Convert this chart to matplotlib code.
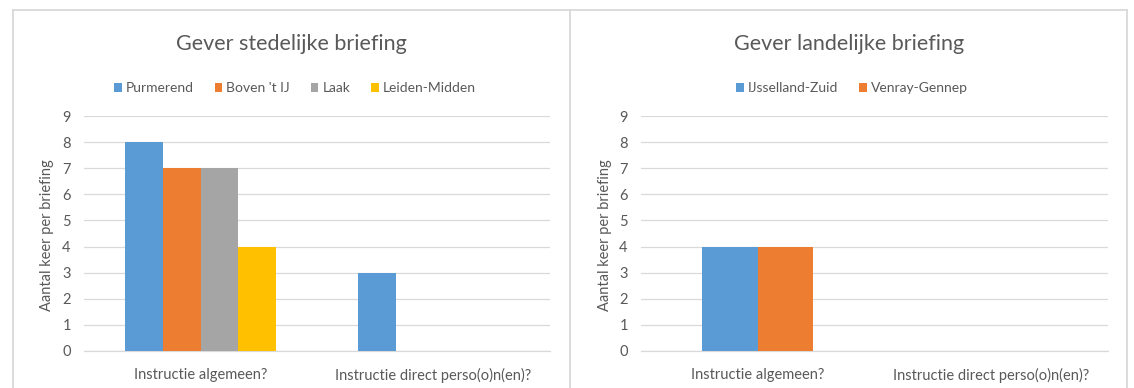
import matplotlib
matplotlib.use("Agg")
import matplotlib.pyplot as plt
from matplotlib.lines import Line2D
from matplotlib.patches import Patch
import numpy as np

plt.rcParams['font.family'] = ['Lato', 'DejaVu Sans']

# Data
categories = ["Instructie algemeen?", "Instructie direct perso(o)n(en)?"]

city_title = "Gever stedelijke briefing"
city_labels = ["Purmerend", "Boven 't IJ", "Laak", "Leiden-Midden"]
city_values = [
    [8, 3],
    [7, 0],
    [7, 0],
    [4, 0],
]

rural_title = "Gever landelijke briefing"
rural_labels = ["IJsselland-Zuid", "Venray-Gennep"]
rural_values = [
    [4, 0],
    [4, 0],
]

y_label = "Aantal keer per briefing"
y_ticks = list(range(0, 10))

colors = ["#5B9BD5", "#ED7D31", "#A5A5A5", "#FFC000"]
text_color = "#595959"
grid_color = "#D9D9D9"

W, H = 1134, 388
fig = plt.figure(figsize=(W / 100, H / 100), dpi=100)
fig.patch.set_facecolor("white")


def px_axes(x0, y0, x1, y1):
    return fig.add_axes([x0 / W, 1 - y1 / H, (x1 - x0) / W, (y1 - y0) / H])


def draw_panel(ax, labels, values, bar_w, title, title_cx, legend_cx, ylab_x):
    n = len(labels)
    x = np.arange(len(categories))
    for i, vals in enumerate(values):
        offs = (i - (n - 1) / 2) * bar_w
        ax.bar(x + offs, vals, width=bar_w, color=colors[i], zorder=3, linewidth=0)
    ax.set_xlim(-0.5, 1.5)
    ax.set_ylim(0, 9)
    ax.set_yticks(y_ticks)
    ax.set_xticks(x)
    ax.set_xticklabels(categories)
    ax.tick_params(axis="both", length=0, colors=text_color, labelsize=10.5)
    ax.tick_params(axis="y", pad=9.5)
    ax.tick_params(axis="x", pad=12)
    ax.grid(axis="y", color=grid_color, linewidth=0.9, zorder=0)
    for s in ["top", "right", "left"]:
        ax.spines[s].set_visible(False)
    ax.spines["bottom"].set_color(grid_color)
    ax.spines["bottom"].set_linewidth(0.9)
    fig.text(ylab_x / W, 1 - 235 / H, y_label, rotation=90, ha="center", va="center",
             color=text_color, fontsize=10.5)
    fig.text(title_cx / W, 1 - 44 / H, title, ha="center", va="center",
             color=text_color, fontsize=15.5)
    handles = [Patch(facecolor=colors[i], edgecolor="none") for i in range(n)]
    fig.legend(handles, labels, loc="center", bbox_to_anchor=(legend_cx / W, 1 - 88.5 / H),
               ncol=n, frameon=False, fontsize=10, handlelength=0.55, handleheight=0.55,
               handletextpad=0.3, columnspacing=1.5, labelcolor=text_color, borderpad=0)


ax1 = px_axes(84, 116, 550, 351)
draw_panel(ax1, city_labels, city_values, 0.1617, city_title, 291, 295, 47)

ax2 = px_axes(641, 116, 1108, 351)
draw_panel(ax2, rural_labels, rural_values, 0.2375, rural_title, 849, 852, 605)

# Chart frames
frame_color = "#D9D9D9"
for (x0, y0, x1, y1) in [(13, 10, 1127, 10), (13, 10, 13, 388), (570, 10, 570, 388), (1127, 10, 1127, 388)]:
    fig.add_artist(Line2D([x0 / W, x1 / W], [1 - y0 / H, 1 - y1 / H], color=frame_color,
                          linewidth=1.3, transform=fig.transFigure))

fig.savefig("out.png", dpi=100, facecolor="white")
